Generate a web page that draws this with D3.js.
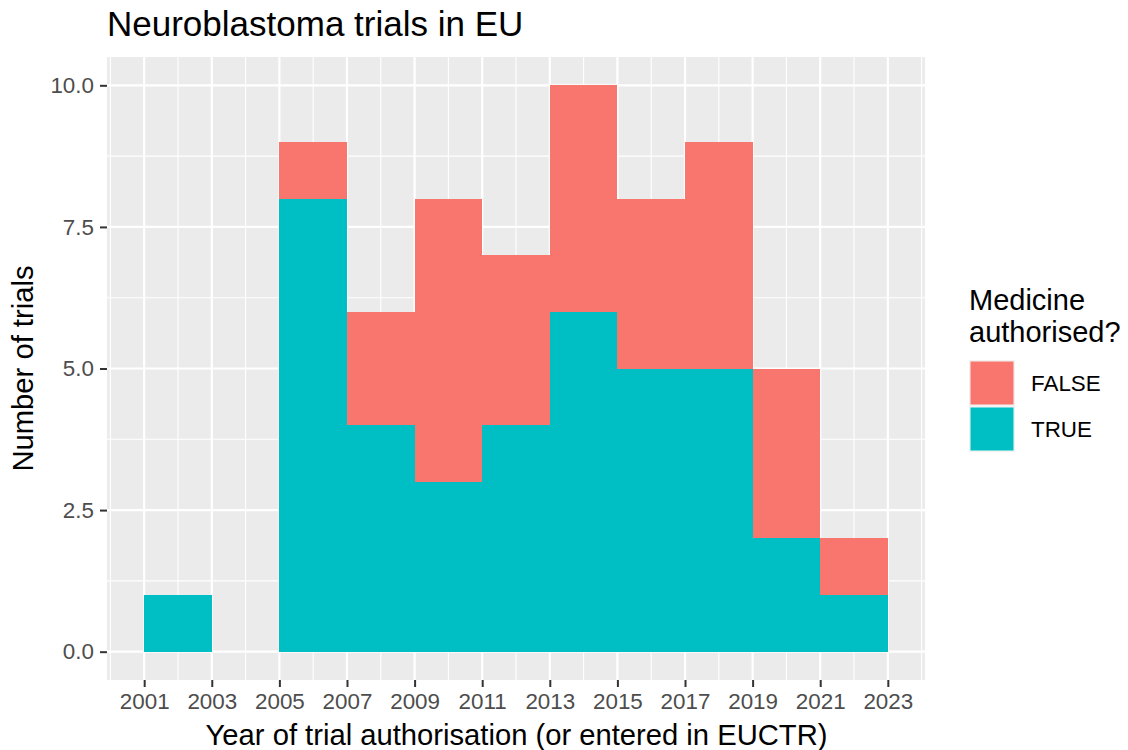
<!DOCTYPE html>
<html>
<head>
<meta charset="utf-8">
<script src="https://cdn.jsdelivr.net/npm/d3@7"></script>
<style>
  html, body { margin: 0; padding: 0; background: #fff; }
  svg { display: block; font-family: "Liberation Sans", Arial, Helvetica, sans-serif; }
</style>
</head>
<body>
<svg id="chart" width="1128" height="750"></svg>
<script>
// ---- data ----
const binStarts = [2001, 2003, 2005, 2007, 2009, 2011, 2013, 2015, 2017, 2019, 2021];
const binWidth = 2;
const trueCounts  = [1, 0, 8, 4, 3, 4, 6, 5, 5, 2, 1];
const falseCounts = [0, 0, 1, 2, 5, 3, 4, 3, 4, 3, 1];
const seriesKeys = ["FALSE", "TRUE"];
const seriesColors = ["#F8766D", "#00BFC4"];
const xTicks = [2001, 2003, 2005, 2007, 2009, 2011, 2013, 2015, 2017, 2019, 2021, 2023];
const xMinor = [2000, 2002, 2004, 2006, 2008, 2010, 2012, 2014, 2016, 2018, 2020, 2022, 2024];
const yTicks = [0, 2.5, 5, 7.5, 10];
const yMinor = [1.25, 3.75, 6.25, 8.75];
const titleText = "Neuroblastoma trials in EU";
const xTitle = "Year of trial authorisation (or entered in EUCTR)";
const yTitle = "Number of trials";
const legendTitle = ["Medicine", "authorised?"];

// ---- layout ----
const svg = d3.select("#chart");
const P = { left: 107, right: 925, top: 57, bottom: 680 };

const rows = binStarts.map((s, i) => ({ start: s, TRUE: trueCounts[i], FALSE: falseCounts[i] }));
const xMin = d3.min(binStarts), xMax = d3.max(binStarts) + binWidth;
const xPad = (xMax - xMin) * 0.05;
const yMaxData = d3.max(rows, d => d.TRUE + d.FALSE);
const yPad = yMaxData * 0.05;

const x = d3.scaleLinear().domain([xMin - xPad, xMax + xPad]).range([P.left, P.right]);
const y = d3.scaleLinear().domain([-yPad, yMaxData + yPad]).range([P.bottom, P.top]);

// panel
svg.append("rect").attr("x", P.left).attr("y", P.top)
  .attr("width", P.right - P.left).attr("height", P.bottom - P.top).attr("fill", "#EBEBEB");

const grid = svg.append("g");
grid.selectAll(".xm").data(xMinor).join("line")
  .attr("x1", d => x(d)).attr("x2", d => x(d)).attr("y1", P.top).attr("y2", P.bottom)
  .attr("stroke", "#fff").attr("stroke-width", 1.1);
grid.selectAll(".ym").data(yMinor).join("line")
  .attr("y1", d => y(d)).attr("y2", d => y(d)).attr("x1", P.left).attr("x2", P.right)
  .attr("stroke", "#fff").attr("stroke-width", 1.1);
grid.selectAll(".xM").data(xTicks).join("line")
  .attr("x1", d => x(d)).attr("x2", d => x(d)).attr("y1", P.top).attr("y2", P.bottom)
  .attr("stroke", "#fff").attr("stroke-width", 2.2);
grid.selectAll(".yM").data(yTicks).join("line")
  .attr("y1", d => y(d)).attr("y2", d => y(d)).attr("x1", P.left).attr("x2", P.right)
  .attr("stroke", "#fff").attr("stroke-width", 2.2);

// stacked bars (TRUE at bottom, FALSE on top)
const stack = d3.stack().keys(["TRUE", "FALSE"]);
const layers = stack(rows);
const colorOf = d3.scaleOrdinal().domain(seriesKeys).range(seriesColors);
svg.append("g").attr("shape-rendering", "crispEdges").selectAll("g").data(layers).join("g")
  .attr("fill", d => colorOf(d.key))
  .selectAll("rect").data(d => d.filter(s => s[1] - s[0] > 0)).join("rect")
  .attr("x", d => x(d.data.start))
  .attr("width", d => x(d.data.start + binWidth) - x(d.data.start))
  .attr("y", d => y(d[1]))
  .attr("height", d => y(d[0]) - y(d[1]));

// axes
const xAxis = d3.axisBottom(x).tickValues(xTicks).tickFormat(d3.format("d")).tickSize(7).tickPadding(6);
const gx = svg.append("g").attr("transform", `translate(0,${P.bottom})`).call(xAxis);
gx.select(".domain").remove();
gx.selectAll(".tick line").attr("stroke", "#333").attr("stroke-width", 2);
gx.selectAll(".tick text").attr("fill", "#4D4D4D").attr("font-size", 22.4)
  .attr("font-family", "Liberation Sans, Arial, sans-serif").attr("dy", "0.71em");

const yAxis = d3.axisLeft(y).tickValues(yTicks).tickFormat(d3.format(".1f")).tickSize(7).tickPadding(6);
const gy = svg.append("g").attr("transform", `translate(${P.left},0)`).call(yAxis);
gy.select(".domain").remove();
gy.selectAll(".tick line").attr("stroke", "#333").attr("stroke-width", 2);
gy.selectAll(".tick text").attr("fill", "#4D4D4D").attr("font-size", 22.4)
  .attr("font-family", "Liberation Sans, Arial, sans-serif");

// titles
svg.append("text").attr("x", P.left).attr("y", 36).attr("font-size", 35).attr("fill", "#000")
  .text(titleText);
svg.append("text").attr("x", (P.left + P.right) / 2 + 0.5).attr("y", 745).attr("text-anchor", "middle")
  .attr("font-size", 29.2).attr("fill", "#000").text(xTitle);
svg.append("text").attr("transform", `translate(33,${(P.top + P.bottom) / 2}) rotate(-90)`)
  .attr("text-anchor", "middle").attr("font-size", 29.2).attr("fill", "#000").text(yTitle);

// legend
const lg = svg.append("g");
lg.selectAll(".lt").data(legendTitle).join("text")
  .attr("x", 969).attr("y", (d, i) => 310 + i * 31.5)
  .attr("font-size", 29).attr("fill", "#000").text(d => d);
const keyY0 = 360, keySize = 46;
const keys = lg.selectAll(".key").data(seriesKeys).join("g")
  .attr("transform", (d, i) => `translate(969,${keyY0 + i * keySize})`);
keys.append("rect").attr("width", keySize).attr("height", keySize).attr("fill", "#F2F2F2");
keys.append("rect").attr("x", 1.5).attr("y", 1.5).attr("width", keySize - 3).attr("height", keySize - 3)
  .attr("fill", d => colorOf(d));
keys.append("text").attr("x", 62).attr("y", keySize / 2).attr("dy", "0.36em")
  .attr("font-size", 22.4).attr("fill", "#000").text(d => d);
</script>
</body>
</html>
